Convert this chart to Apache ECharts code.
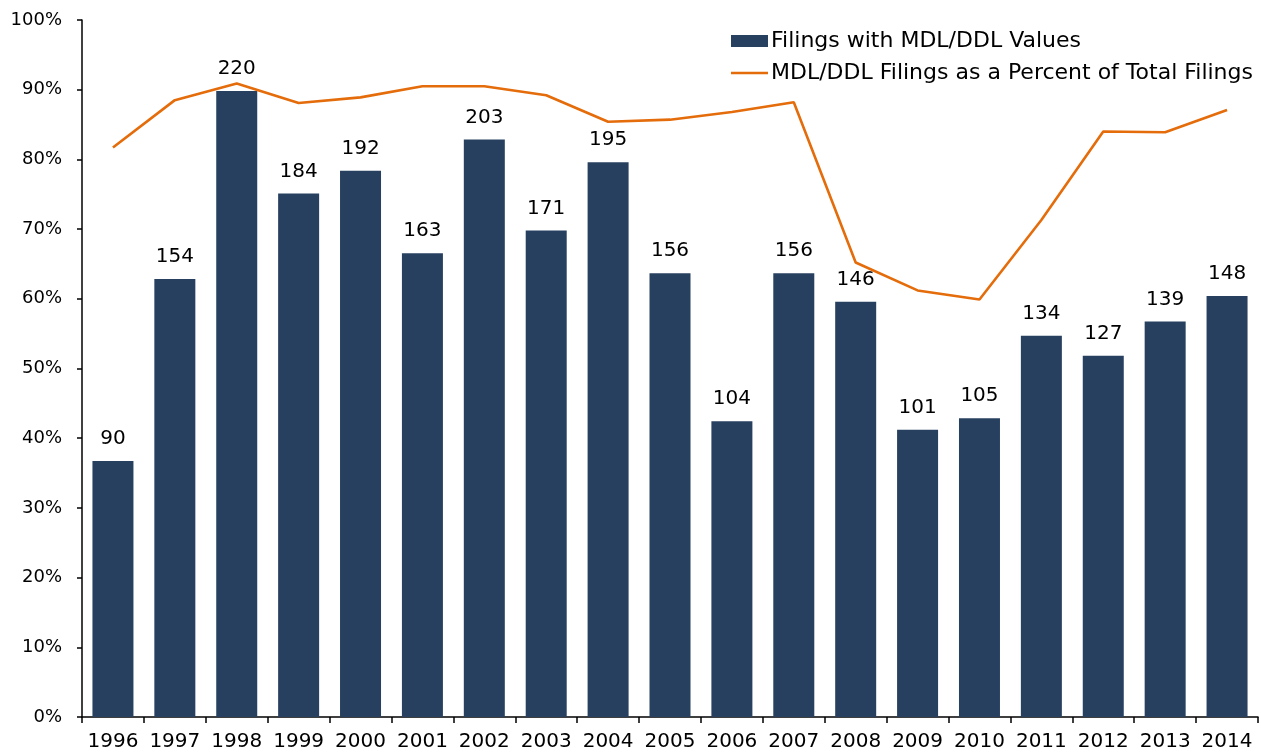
<!DOCTYPE html>
<html>
<head>
<meta charset="utf-8">
<script src="https://cdn.jsdelivr.net/npm/echarts@6/dist/echarts.min.js"></script>
<style>
  html, body { margin: 0; padding: 0; background: #fff; }
  #chart { width: 1261px; height: 752px; }
</style>
</head>
<body>
<div id="chart"></div>
<script>
// data
var years = ['1996', '1997', '1998', '1999', '2000', '2001', '2002', '2003', '2004', '2005',
  '2006', '2007', '2008', '2009', '2010', '2011', '2012', '2013', '2014']
var filings = [90, 154, 220, 184, 192, 163, 203, 171, 195, 156, 104, 156, 146, 101, 105, 134, 127, 139, 148]
var pctOfTotal = [0.817, 0.885, 0.909, 0.881, 0.889, 0.905, 0.905, 0.892, 0.854, 0.857,
  0.868, 0.882, 0.652, 0.612, 0.599, 0.713, 0.840, 0.839, 0.871]

var barName = 'Filings with MDL/DDL Values'
var lineName = 'MDL/DDL Filings as a Percent of Total Filings'

// the source text is wide, DejaVu gets closest to its proportions
var font = 'DejaVu Sans, Liberation Sans, sans-serif'

var chart = echarts.init(document.getElementById('chart'))
chart.setOption({
  animation: false,
  backgroundColor: '#fff',
  textStyle: { fontFamily: font, color: '#000' },
  legend: {
    orient: 'vertical',
    left: 726,
    top: 25,
    itemWidth: 37,
    itemHeight: 12,
    itemGap: 10,
    textStyle: { fontFamily: font, fontSize: 22, color: '#000', padding: [0, 0, 0, -2] },
    data: [
      { name: barName, icon: 'rect' },
      { name: lineName, icon: 'path://M0,0H37V2.6H0Z' }
    ]
  },
  grid: { left: 82, right: 3, top: 20, bottom: 34 },
  xAxis: {
    type: 'category',
    data: years,
    axisLine: { lineStyle: { color: '#000', width: 1.5 } },
    axisTick: { show: true, length: 6, lineStyle: { color: '#000', width: 1.5 } },
    axisLabel: { interval: 0, hideOverlap: false, fontFamily: font, fontSize: 20, color: '#000', margin: 15 }
  },
  yAxis: [{
    type: 'value',
    min: 0,
    max: 1,
    interval: 0.1,
    axisLine: { show: true, lineStyle: { color: '#000', width: 1.5 } },
    axisTick: { show: true, length: 5, lineStyle: { color: '#000', width: 1.5 } },
    splitLine: { show: false },
    axisLabel: {
      fontFamily: font,
      fontSize: 18,
      color: '#000',
      margin: 20,
      formatter: function(v) { return Math.round(v * 100) + '%' }
    }
  }, {
    type: 'value',
    min: 0,
    max: 245,
    show: false,
    splitLine: { show: false }
  }],
  series: [{
    name: barName,
    type: 'bar',
    yAxisIndex: 1,
    barWidth: 41,
    itemStyle: { color: '#27405f' },
    label: {
      show: true,
      position: 'top',
      distance: 12,
      fontFamily: font,
      fontSize: 20,
      color: '#000'
    },
    data: filings
  }, {
    name: lineName,
    type: 'line',
    yAxisIndex: 0,
    symbol: 'none',
    lineStyle: { color: '#e46c0a', width: 2.6 },
    itemStyle: { color: '#e46c0a' },
    data: pctOfTotal
  }]
})
</script>
</body>
</html>
